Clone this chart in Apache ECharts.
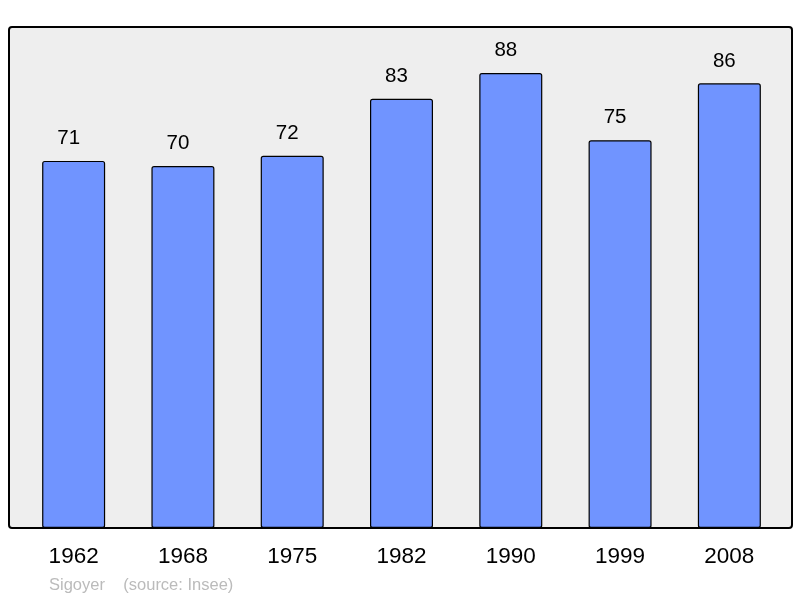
<!DOCTYPE html>
<html><head><meta charset="utf-8">
<script src="https://cdn.jsdelivr.net/npm/echarts@6/dist/echarts.min.js"></script>
<style>html,body{margin:0;padding:0;background:#fff}#c{width:800px;height:598px}</style>
</head><body><div id="c"></div>
<script>
const years = ['1962','1968','1975','1982','1990','1999','2008'];
const population = [71, 70, 72, 83, 88, 75, 86];
const chart = echarts.init(document.getElementById('c'), null, {renderer:'canvas'});
chart.setOption({
  animation:false,
  backgroundColor:'#ffffff',
  graphic:[
    {type:'rect', z:-10, shape:{x:9, y:27, width:783, height:501, r:3},
     style:{fill:'#eeeeee', stroke:'#000000', lineWidth:2}},
    {type:'text', left:49, top:577, style:{text:'Sigoyer    (source: Insee)', fill:'#bbbbbb', font:'16.5px "Liberation Sans", Arial, sans-serif'}}
  ],
  grid:{left:19, width:765, top:27, height:501, containLabel:false},
  xAxis:{type:'category', data:years,
    axisLine:{show:false}, axisTick:{show:false},
    axisLabel:{color:'#000', fontSize:22.5, fontFamily:'Liberation Sans', margin:17}},
  yAxis:{type:'value', min:0, max:96.9, show:false, splitLine:{show:false}},
  series:[{type:'bar', data:population, barWidth:63,
    itemStyle:{color:'#7094ff', borderColor:'#000', borderWidth:1.2, borderRadius:2},
    label:{show:true, position:'top', distance:12, offset:[-5,0], color:'#000', fontSize:20.5, fontFamily:'Liberation Sans'}}]
});
</script></body></html>
